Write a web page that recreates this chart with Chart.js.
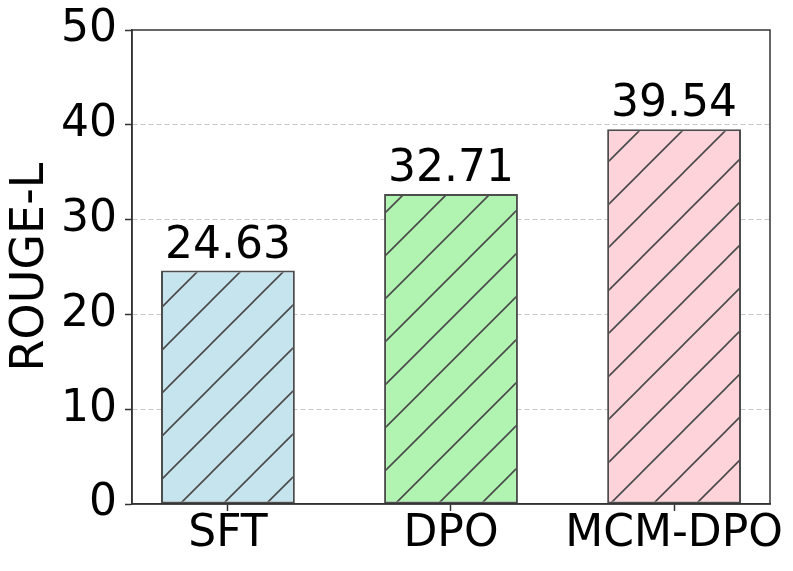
<!DOCTYPE html>
<html>
<head>
<meta charset="utf-8">
<script src="https://cdn.jsdelivr.net/npm/chart.js@4"></script>
<style>
  html, body { margin: 0; padding: 0; background: #fff; }
  #wrap { width: 793px; height: 571px; }
</style>
</head>
<body>
<div id="wrap"><canvas id="chart"></canvas></div>
<script>
// data
const methods = ['SFT', 'DPO', 'MCM-DPO'];
const rougeL = [24.63, 32.71, 39.54];
const barColors = ['#c6e4ee', '#b1f3b1', '#ffd3da'];
const yTicks = [0, 10, 20, 30, 40, 50];

// 斜線ハッチのパターンを作る
function hatchPattern(ctx, fill) {
  const s = 43;
  const c = document.createElement('canvas');
  c.width = s; c.height = s;
  const g = c.getContext('2d');
  g.fillStyle = fill;
  g.fillRect(0, 0, s, s);
  g.strokeStyle = '#4a4a4a';
  g.lineWidth = 1.6;
  g.beginPath();
  g.moveTo(-2, s + 2); g.lineTo(s + 2, -2);
  g.moveTo(-2 - s, s + 2); g.lineTo(2, -2);
  g.moveTo(s - 2, s + 2); g.lineTo(2 * s + 2, -2);
  g.stroke();
  const p = ctx.createPattern(c, 'repeat');
  p.setTransform(new DOMMatrix().translate(39, 0));
  return p;
}

const canvas = document.getElementById('chart');
const ctx = canvas.getContext('2d');
const FONT = "'DejaVu Sans', sans-serif";

// 枠線（上・右）と数値ラベル
const framePlugin = {
  id: 'frame',
  afterDatasetsDraw(chart) {
    const { ctx, chartArea: a } = chart;
    ctx.save();
    ctx.strokeStyle = '#333';
    ctx.lineWidth = 1.5;
    ctx.strokeRect(a.left, a.top, a.right - a.left, a.bottom - a.top);

    ctx.fillStyle = '#000';
    ctx.font = `44px ${FONT}`;
    ctx.textAlign = 'center';
    ctx.textBaseline = 'alphabetic';
    chart.getDatasetMeta(0).data.forEach((bar, i) => {
      ctx.fillText(rougeL[i].toFixed(2), bar.x, bar.y - 13);
    });
    ctx.restore();
  }
};

new Chart(ctx, {
  type: 'bar',
  data: {
    datasets: [{
      data: rougeL.map((v, i) => ({ x: i, y: v })),
      backgroundColor: barColors.map(c => hatchPattern(ctx, c)),
      borderColor: '#4d4d4d',
      borderWidth: 2,
      borderSkipped: false,
      categoryPercentage: 1,
      barPercentage: 0.6
    }]
  },
  options: {
    responsive: true,
    maintainAspectRatio: false,
    animation: false,
    layout: { padding: { top: 29, right: 23, left: 0, bottom: 0 } },
    plugins: { legend: { display: false }, tooltip: { enabled: false } },
    scales: {
      x: {
        type: 'linear',
        min: -0.43,
        max: 2.43,
        offset: false,
        afterBuildTicks: (scale) => { scale.ticks = methods.map((m, i) => ({ value: i })); },
        afterFit: (scale) => { scale.height = 67; },
        ticks: {
          callback: (v) => methods[v],
          color: '#000',
          font: { family: FONT, size: 44, lineHeight: 1 },
          padding: 2,
          maxRotation: 0,
          autoSkip: false
        },
        grid: { offset: false, drawOnChartArea: false, tickLength: 7, tickColor: '#333', tickWidth: 1.5 },
        border: { color: '#333', width: 1.5 }
      },
      y: {
        min: 0,
        max: 50,
        afterBuildTicks: (scale) => { scale.ticks = yTicks.map(v => ({ value: v })); },
        afterFit: (scale) => { scale.width = 132; },
        ticks: {
          color: '#000',
          font: { family: FONT, size: 44, lineHeight: 1 },
          padding: 8
        },
        title: {
          display: true,
          text: 'ROUGE-L',
          color: '#000',
          font: { family: FONT, size: 46 },
          padding: { top: 3, bottom: 0 }
        },
        grid: {
          color: (c) => (c.tick && (c.tick.value === 0 || c.tick.value === 50)) ? 'rgba(0,0,0,0)' : '#c8c8c8',
          lineWidth: 1,
          tickLength: 7,
          tickColor: '#333',
          tickWidth: 1.5
        },
        border: { color: '#333', width: 1.5, dash: [5, 3] }
      }
    }
  },
  plugins: [framePlugin]
});
</script>
</body>
</html>
